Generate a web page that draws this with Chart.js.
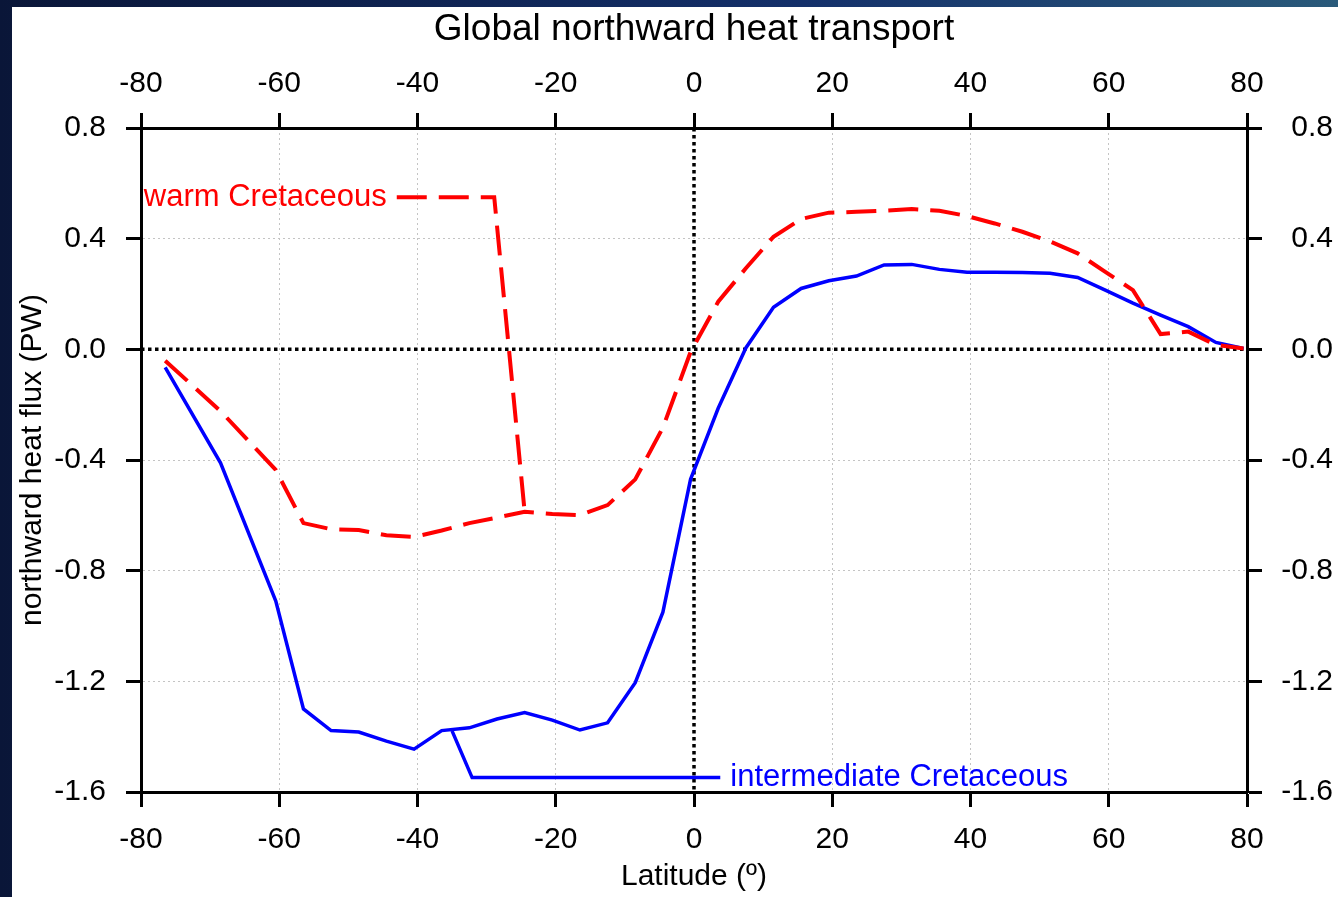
<!DOCTYPE html>
<html>
<head>
<meta charset="utf-8">
<script src="https://cdn.jsdelivr.net/npm/chart.js@4"></script>
<style>
  html, body { margin: 0; padding: 0; background: #0c1c48; overflow: hidden; }
  #wrap { position: absolute; left: 0; top: 0; width: 1338px; height: 897px; }
</style>
</head>
<body>
<div id="wrap"><canvas id="heatChart"></canvas></div>
<script>
// latitude grid of the model output (degrees)
const latitudes = [-76.5, -72.5, -68.5, -64.5, -60.5, -56.5, -52.5, -48.5, -44.5, -40.5,
                   -36.5, -32.5, -28.5, -24.5, -20.5, -16.5, -12.5, -8.5, -4.5, -0.5,
                   3.5, 7.5, 11.5, 15.5, 19.5, 23.5, 27.5, 31.5, 35.5, 39.5,
                   43.5, 47.5, 51.5, 55.5, 59.5, 63.5, 67.5, 71.5, 75.5, 79.5];

// northward heat flux (PW)
const warmFlux = [-0.041, null, -0.223, null, -0.436, -0.628, -0.650, -0.653, -0.672, -0.678,
                  -0.655, -0.628, -0.608, -0.587, -0.595, -0.599, -0.563, -0.470, -0.283, -0.010,
                  0.172, 0.293, 0.407, 0.471, 0.494, 0.497, 0.501, 0.507, 0.501, 0.482,
                  0.455, 0.425, 0.390, 0.347, 0.280, 0.214, 0.055, 0.064, 0.016, 0.003];
const intermediateFlux = [-0.065, null, -0.410, null, -0.910, -1.300, -1.378, -1.383, -1.416, -1.445,
                          -1.378, -1.368, -1.336, -1.313, -1.340, -1.376, -1.350, -1.205, -0.950, -0.470,
                          -0.213, 0.005, 0.152, 0.220, 0.248, 0.265, 0.305, 0.307, 0.289, 0.279,
                          0.279, 0.278, 0.275, 0.260, 0.214, 0.167, 0.124, 0.082, 0.025, 0.003];

// label leader lines (lat, flux)
const warmLeaderLat = [-43.0, -28.9, -24.5];
const warmLeaderFlux = [0.55, 0.55, -0.587];
const interLeaderLat = [-35.0, -32.1, 3.8];
const interLeaderFlux = [-1.379, -1.548, -1.548];

const xTicks = [-80, -60, -40, -20, 0, 20, 40, 60, 80];
const yTicks = [0.8, 0.4, 0.0, -0.4, -0.8, -1.2, -1.6];

const RED = '#ff0000';
const BLUE = '#0000ff';

function pts(xs, ys) {
  return xs.map((x, i) => ({ x: x, y: ys[i] }));
}

Chart.defaults.font.family = "'Liberation Sans', Arial, sans-serif";
Chart.defaults.color = '#000';

const frame = {
  id: 'frame',
  beforeDraw(chart) {
    const c = chart.ctx;
    c.save();
    const g = c.createLinearGradient(0, 0, chart.width, 0);
    g.addColorStop(0, '#0a1638');
    g.addColorStop(0.6, '#14306a');
    g.addColorStop(1, '#2a5a7a');
    c.fillStyle = g;
    c.fillRect(0, 0, chart.width, chart.height);
    c.fillStyle = '#fff';
    c.fillRect(12, 7, chart.width - 12, chart.height - 7);
    c.restore();
  }
};

const zeroLines = {
  id: 'zeroLines',
  beforeDatasetsDraw(chart) {
    const c = chart.ctx, a = chart.chartArea;
    const x0 = chart.scales.x.getPixelForValue(0);
    const y0 = chart.scales.y.getPixelForValue(0);
    c.save();
    c.strokeStyle = '#000';
    c.lineWidth = 3.5;
    c.setLineDash([3.5, 3.5]);
    c.beginPath();
    c.moveTo(a.left, y0); c.lineTo(a.right, y0);
    c.moveTo(x0, a.top); c.lineTo(x0, a.bottom);
    c.stroke();
    c.restore();
  }
};

const lineLabels = {
  id: 'lineLabels',
  afterDatasetsDraw(chart) {
    const c = chart.ctx, sx = chart.scales.x, sy = chart.scales.y;
    c.save();
    c.font = "31px 'Liberation Sans', Arial, sans-serif";
    c.textBaseline = 'middle';
    c.fillStyle = RED;
    c.textAlign = 'right';
    c.fillText('warm Cretaceous', sx.getPixelForValue(warmLeaderLat[0]) - 10, sy.getPixelForValue(warmLeaderFlux[0]));
    c.fillStyle = BLUE;
    c.textAlign = 'left';
    c.fillText('intermediate Cretaceous', sx.getPixelForValue(interLeaderLat[2]) + 10, sy.getPixelForValue(interLeaderFlux[2]));
    c.restore();
  }
};

const gridColor = ctx => (Math.abs(ctx.tick.value) < 1e-9 ? 'rgba(0,0,0,0)' : '#c4c4c4');

new Chart(document.getElementById('heatChart'), {
  type: 'line',
  data: {
    datasets: [
      { data: pts(latitudes, warmFlux), borderColor: RED, borderWidth: 4, borderDash: [30, 12],
        pointRadius: 0, spanGaps: true, tension: 0, fill: false },
      { data: pts(warmLeaderLat, warmLeaderFlux), borderColor: RED, borderWidth: 4, borderDash: [30, 12],
        pointRadius: 0, tension: 0, fill: false },
      { data: pts(latitudes, intermediateFlux), borderColor: BLUE, borderWidth: 3.5,
        pointRadius: 0, spanGaps: true, tension: 0, fill: false },
      { data: pts(interLeaderLat, interLeaderFlux), borderColor: BLUE, borderWidth: 3.5,
        pointRadius: 0, tension: 0, fill: false }
    ]
  },
  options: {
    responsive: true,
    maintainAspectRatio: false,
    animation: false,
    layout: { padding: { left: 12, top: 7, right: 5, bottom: 0 } },
    plugins: { legend: { display: false }, tooltip: { enabled: false } },
    scales: {
      x: {
        type: 'linear', position: 'bottom', min: -80, max: 80,
        afterFit: s => { s.height = 105; },
        afterBuildTicks: s => { s.ticks = xTicks.map(v => ({ value: v })); },
        ticks: { font: { size: 30 }, padding: 15, maxRotation: 0, color: '#000' },
        grid: { color: gridColor, lineWidth: 1, tickLength: 15, tickColor: '#000', tickWidth: 3 },
        border: { color: '#000', width: 3, dash: [2, 3] },
        title: { display: true, text: 'Latitude (º)', font: { size: 30 }, padding: { top: 0, bottom: 2 }, color: '#000' }
      },
      x2: {
        type: 'linear', position: 'top', min: -80, max: 80,
        afterFit: s => { s.height = 121; },
        afterBuildTicks: s => { s.ticks = xTicks.map(v => ({ value: v })); },
        ticks: { font: { size: 30 }, padding: 11, maxRotation: 0, color: '#000' },
        grid: { drawOnChartArea: false, tickLength: 15, tickColor: '#000', tickWidth: 3 },
        border: { color: '#000', width: 3 },
        title: { display: true, text: 'Global northward heat transport', font: { size: 37 }, padding: { top: 1, bottom: 0 }, color: '#000' }
      },
      y: {
        type: 'linear', position: 'left', min: -1.6, max: 0.8,
        afterFit: s => { s.width = 129; },
        afterBuildTicks: s => { s.ticks = yTicks.map(v => ({ value: v })); },
        ticks: { font: { size: 30 }, padding: 20, color: '#000', callback: v => Number(v).toFixed(1) },
        grid: { color: gridColor, lineWidth: 1, tickLength: 15, tickColor: '#000', tickWidth: 3 },
        border: { color: '#000', width: 3, dash: [2, 3] },
        title: { display: true, text: 'northward heat flux (PW)', font: { size: 30 }, padding: { top: 3, bottom: 0 }, color: '#000' }
      },
      y2: {
        type: 'linear', position: 'right', min: -1.6, max: 0.8,
        afterFit: s => { s.width = 86; },
        afterBuildTicks: s => { s.ticks = yTicks.map(v => ({ value: v })); },
        ticks: { font: { size: 30 }, padding: 17, crossAlign: 'far', color: '#000', callback: v => Number(v).toFixed(1) },
        grid: { drawOnChartArea: false, tickLength: 15, tickColor: '#000', tickWidth: 3 },
        border: { color: '#000', width: 3 }
      }
    }
  },
  plugins: [frame, zeroLines, lineLabels]
});
</script>
</body>
</html>
